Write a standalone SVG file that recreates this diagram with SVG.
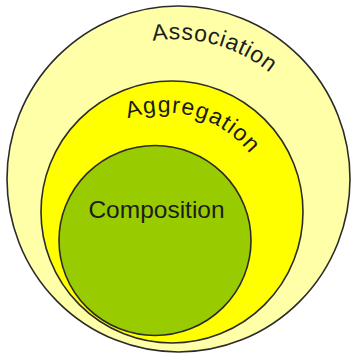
<svg xmlns="http://www.w3.org/2000/svg" width="352" height="356" viewBox="0 0 352 356">
  <style>
    .ring { stroke: #2b2b2b; stroke-width: 1.6; }
    .lbl { font-family: "Liberation Sans", Arial, sans-serif; fill: #1c1c1c; }
  </style>
  <defs>
    <path id="arcAssoc" d="M152.8,41 A150,150 0 0,1 305,114" fill="none"/>
    <path id="arcAggr" d="M128,118.5 A110,110 0 0,1 268,186" fill="none"/>
  </defs>
  <rect width="352" height="356" fill="#ffffff"/>
  <g id="association">
    <ellipse class="ring" cx="178.5" cy="179" rx="171.5" ry="173" fill="#ffffa8"/>
    <text class="lbl" font-size="23" letter-spacing="0.7"><textPath href="#arcAssoc">Association</textPath></text>
  </g>
  <g id="aggregation">
    <circle class="ring" cx="172" cy="212" r="131" fill="#ffff00"/>
    <text class="lbl" font-size="23" letter-spacing="1.1"><textPath href="#arcAggr">Aggregation</textPath></text>
  </g>
  <g id="composition">
    <ellipse class="ring" cx="155" cy="240.5" rx="96" ry="95" fill="#99cc00"/>
    <text class="lbl" x="156.5" y="218" font-size="24.5" text-anchor="middle">Composition</text>
  </g>
  <g id="connectors"/>
</svg>
